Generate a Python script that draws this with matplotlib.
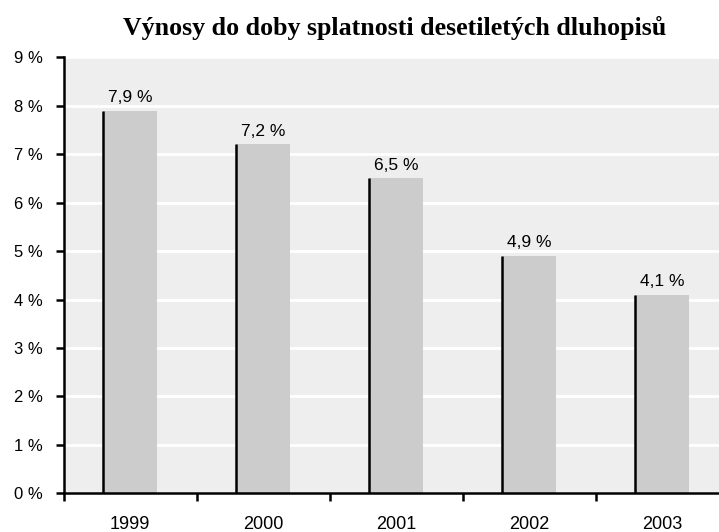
import matplotlib
matplotlib.use("Agg")
import matplotlib.pyplot as plt
import numpy as np

years = ["1999", "2000", "2001", "2002", "2003"]
yields = [7.9, 7.2, 6.5, 4.9, 4.1]
title = "Výnosy do doby splatnosti desetiletých dluhopisů"

W, H = 719, 532
fig = plt.figure(figsize=(W / 100, H / 100), dpi=100)
left, right, top, bottom = 63.5, 729, 57.3, 493.3
ax = fig.add_axes([left / W, 1 - bottom / H, (right - left) / W, (bottom - top) / H])
ax.set_facecolor("#EEEEEE")

x = np.arange(len(years))
bw = 0.406
ax.bar(x, yields, width=bw, color="#CCCCCC", zorder=2)
ax.vlines(x - bw / 2, 0, yields, color="black", lw=1.8, zorder=3)

for xi, v in zip(x, yields):
    ax.annotate(f"{v:.1f} %".replace(".", ","), (xi, v), xytext=(0, 4),
                textcoords="offset points", ha="center", va="bottom",
                fontsize=12.5, family="Liberation Sans", zorder=4)

ax.set_xlim(-0.5, len(years) - 0.5)
ax.set_ylim(0, 9)
ax.set_yticks(range(10))
ax.set_yticklabels([f"{i} %" for i in range(10)], family="Liberation Sans", fontsize=12)
ax.yaxis.grid(True, color="white", lw=2, zorder=1)
ax.set_axisbelow(True)

ax.set_xticks(np.arange(-0.5, len(years), 1.0))
ax.set_xticklabels([])
ax.set_xticks(x, minor=True)
ax.set_xticklabels(years, minor=True, family="Liberation Sans", fontsize=13)
ax.tick_params(axis="x", which="major", length=6, width=1.8, direction="out")
ax.tick_params(axis="x", which="minor", length=0, pad=16)
ax.tick_params(axis="y", length=6, width=1.8, direction="out", pad=9)

for s in ["top", "right"]:
    ax.spines[s].set_visible(False)
ax.spines["left"].set_linewidth(1.8)
ax.spines["bottom"].set_linewidth(1.8)

fig.text(395 / W, 1 - 35 / H, title, ha="center", va="baseline",
         family="Liberation Serif", weight="bold", fontsize=18.7)

fig.savefig("out.png", dpi=100)
